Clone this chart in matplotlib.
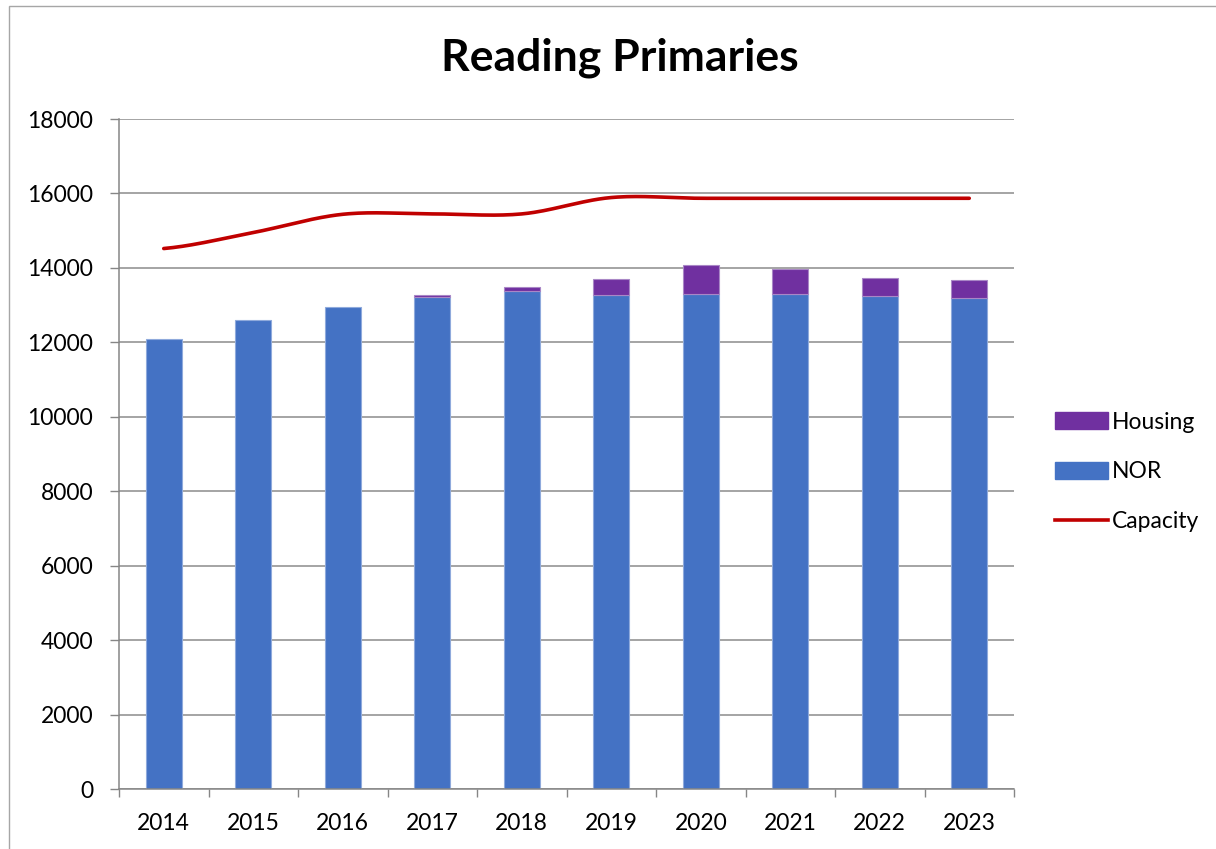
import numpy as np
import matplotlib.pyplot as plt
from matplotlib.patches import Rectangle, Patch
from matplotlib.lines import Line2D

plt.rcParams['font.family'] = ['Lato', 'DejaVu Sans']

years = ['2014', '2015', '2016', '2017', '2018', '2019', '2020', '2021', '2022', '2023']
nor = [12100, 12600, 12950, 13220, 13380, 13260, 13310, 13310, 13250, 13200]
housing = [0, 0, 0, 40, 120, 430, 770, 670, 490, 480]
capacity = [14520, 14950, 15440, 15450, 15450, 15890, 15870, 15870, 15870, 15870]


def smooth(xs, ys, n=30):
    # catmull-rom style smoothing like excel's "smoothed line"
    xs = np.asarray(xs, float)
    ys = np.asarray(ys, float)
    px = np.concatenate([[2 * xs[0] - xs[1]], xs, [2 * xs[-1] - xs[-2]]])
    py = np.concatenate([[ys[0]], ys, [ys[-1]]])
    outx, outy = [], []
    for i in range(1, len(px) - 2):
        t = np.linspace(0, 1, n)
        for p, out in ((px, outx), (py, outy)):
            p0, p1, p2, p3 = p[i - 1], p[i], p[i + 1], p[i + 2]
            out.extend(0.5 * ((2 * p1) + (-p0 + p2) * t +
                              (2 * p0 - 5 * p1 + 4 * p2 - p3) * t ** 2 +
                              (-p0 + 3 * p1 - 3 * p2 + p3) * t ** 3))
    return np.array(outx), np.array(outy)


fig = plt.figure(figsize=(12.16, 8.49), dpi=100)
ax = fig.add_axes([119 / 1216, 1 - 789 / 849, (1014 - 119) / 1216, (789 - 119) / 849])

x = np.arange(len(years))
blue = '#4472C4'
purple = '#7030A0'
red = '#C00000'

ax.bar(x, nor, width=0.4, color=blue, edgecolor='#8FAADC', linewidth=0.8, zorder=2)
h_lw = [0.8 if h > 0 else 0 for h in housing]
ax.bar(x, housing, width=0.4, bottom=nor, color=purple, edgecolor='#A987C6', linewidth=h_lw, zorder=2)
sx, sy = smooth(x, capacity)
ax.plot(sx, sy, color=red, linewidth=2.6, solid_capstyle='round', zorder=3)

ax.set_xlim(-0.5, len(years) - 0.5)
ax.set_ylim(0, 18000)
ax.set_yticks(range(0, 18001, 2000))
ax.set_xticks(x)
ax.set_xticklabels(years)
ax.set_xticks(np.arange(-0.5, len(years), 1), minor=True)
ax.tick_params(axis='x', which='major', length=0, pad=17, labelsize=16.5)
ax.tick_params(axis='x', which='minor', length=5.5, color='#868686', width=1)
ax.tick_params(axis='y', length=6.5, color='#868686', width=1, pad=12, labelsize=16.5)
ax.yaxis.grid(True, color='#8C8C8C', linewidth=1.1, zorder=0)
ax.set_axisbelow(True)
for s in ['top', 'right']:
    ax.spines[s].set_visible(False)
for s in ['left', 'bottom']:
    ax.spines[s].set_color('#868686')
    ax.spines[s].set_linewidth(1.1)

fig.text(620 / 1216, 1 - 58 / 849, 'Reading Primaries', ha='center', va='center',
         fontsize=32, fontweight='bold')

handles = [Patch(facecolor=purple, edgecolor=purple),
           Patch(facecolor=blue, edgecolor=blue),
           Line2D([0], [0], color=red, linewidth=2.6)]
fig.legend(handles, ['Housing', 'NOR', 'Capacity'], loc='center left',
           bbox_to_anchor=(1034 / 1216, 1 - 472 / 849), frameon=False,
           fontsize=16.5, handlelength=2.35, handleheight=0.75,
           labelspacing=1.25, handletextpad=0.15)

fig.patches.append(Rectangle((9 / 1216, -0.01), 1.02, 1 - 6 / 849 + 0.01,
                             transform=fig.transFigure, fill=False,
                             edgecolor='#A6A6A6', linewidth=1))

fig.savefig('out.png', dpi=100)
